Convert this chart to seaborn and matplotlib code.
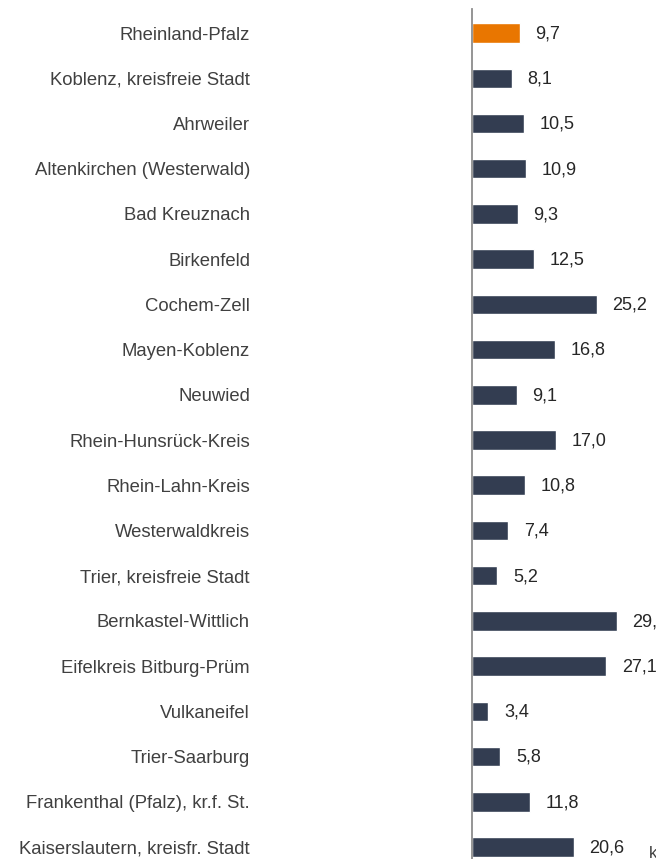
import matplotlib
matplotlib.use("Agg")
import matplotlib.pyplot as plt
import seaborn as sns
import pandas as pd

regions = [
    "Rheinland-Pfalz",
    "Koblenz, kreisfreie Stadt",
    "Ahrweiler",
    "Altenkirchen (Westerwald)",
    "Bad Kreuznach",
    "Birkenfeld",
    "Cochem-Zell",
    "Mayen-Koblenz",
    "Neuwied",
    "Rhein-Hunsrück-Kreis",
    "Rhein-Lahn-Kreis",
    "Westerwaldkreis",
    "Trier, kreisfreie Stadt",
    "Bernkastel-Wittlich",
    "Eifelkreis Bitburg-Prüm",
    "Vulkaneifel",
    "Trier-Saarburg",
    "Frankenthal (Pfalz), kr.f. St.",
    "Kaiserslautern, kreisfr. Stadt",
]
values = [9.7, 8.1, 10.5, 10.9, 9.3, 12.5, 25.2, 16.8, 9.1, 17.0,
          10.8, 7.4, 5.2, 29.2, 27.1, 3.4, 5.8, 11.8, 20.6]
groups = ["Land"] + ["Kreis"] * (len(regions) - 1)

df = pd.DataFrame({"region": regions, "value": values, "group": groups})

sns.set_theme(style="white")
plt.rcParams["font.family"] = ["Liberation Sans", "DejaVu Sans"]

W, H = 656, 859
fig = plt.figure(figsize=(W / 100, H / 100), dpi=100)
ax = fig.add_axes([471.5 / W, 0.0, (W - 471.5) / W, (H - 9) / H])

palette = {"Land": "#E97600", "Kreis": "#333D51"}
sns.barplot(data=df, x="value", y="region", hue="group", palette=palette,
            dodge=False, legend=False, width=0.43, ax=ax, saturation=1)

n = len(regions)
ax.set_xlim(0, (W - 471.5) / 4.98)
ax.set_ylim(n - 1 + 12 / 45.22, -24 / 45.22)

for i, v in enumerate(values):
    ax.text(v + 15.5 / 4.98, i + 0.02, f"{v:.1f}".replace(".", ","),
            va="center", ha="left", fontsize=13, color="#262626",
            clip_on=False)

ax.set_xlabel("")
ax.set_ylabel("")
ax.set_xticks([])
# gap between label right edge (x=250 px) and the axis line, in points
ax.tick_params(axis="y", length=0, pad=(471.5 - 250) * 0.72,
               labelsize=13.3, labelcolor="#404040")

for s in ["top", "right", "bottom"]:
    ax.spines[s].set_visible(False)
ax.spines["left"].set_color("#8C8C8C")
ax.spines["left"].set_linewidth(1.3)

fig.text(649 / W, 1 - 853 / H, "k", fontsize=12, color="#404040",
         va="center", ha="left")

fig.savefig("out.png", dpi=100)
